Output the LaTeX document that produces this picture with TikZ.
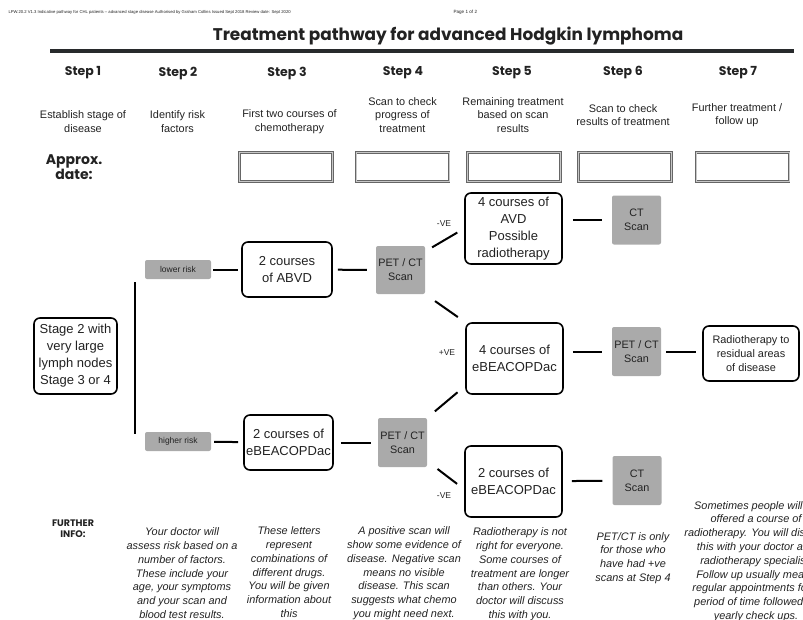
\documentclass[tikz,border=0pt]{standalone}
\usepackage{fontspec}
\setmainfont{Liberation Sans}
\newfontfamily\headfont{Poppins}
\usepackage{tikz}
\usetikzlibrary{positioning}

\definecolor{scangray}{RGB}{170,170,170}
\definecolor{inkgray}{RGB}{34,34,34}
\definecolor{rulegray}{RGB}{40,42,44}

\tikzset{
	course/.style={draw=black, line width=1.6pt, rounded corners=6pt, fill=white, align=center, inner sep=2pt, font=\fontsize{13}{17}\selectfont},
	scan/.style={fill=scangray, rounded corners=2pt, align=center, minimum width=49pt, minimum height=49pt, inner sep=1pt, font=\fontsize{10.8}{14}\selectfont},
	link/.style={line width=2pt, shorten <=9pt, shorten >=9pt}
}

\begin{document}
\begin{tikzpicture}[
		x=1pt, y=-1pt,
		every node/.append style={text=inkgray},
		steplabel/.style={font=\headfont\bfseries\fontsize{12.5}{14}\selectfont},
		stepnote/.style={align=center, font=\fontsize{10.9}{13.5}\selectfont},
		datebox/.style={draw=black!60, line width=1pt, double=black!22, double distance=0.7pt, minimum width=93pt, minimum height=29pt},
		risk/.style={fill=scangray, rounded corners=2pt, minimum width=66pt, minimum height=19pt, font=\fontsize{8.5}{10}\selectfont},
		vlabel/.style={font=\fontsize{8.5}{10}\selectfont},
		infonote/.style={anchor=north, inner sep=0pt, align=center, font=\itshape\fontsize{10.9}{13.8}\selectfont},
		fork/.style={line width=1.6pt}
		]
		\useasboundingbox (0,0) rectangle (803,619);
		\clip (0,0) rectangle (803,619);
		
		% page header
		\node[anchor=west, font=\fontsize{4.2}{5}\selectfont] (docref) at (5,12) {LPW.20.2 V1.3 Indicative pathway for CHL patients – advanced stage disease Authorised by Graham Collins Issued Sept 2018 Review date: Sept 2020};
		\node[anchor=west, font=\fontsize{4.6}{5}\selectfont] (pageno) at (450,12) {Page 1 of 2};
		\node[font=\headfont\bfseries\fontsize{16.9}{20}\selectfont] (title) at (448,36) {Treatment pathway for advanced Hodgkin lymphoma};
		\draw[rulegray, line width=4.5pt] (50,51) -- (794,51);
		
		% steps
		\node[steplabel] (step1) at (83,73) {Step 1};
		\node[steplabel] (step2) at (178,73) {Step 2};
		\node[steplabel] (step3) at (287,73) {Step 3};
		\node[steplabel] (step4) at (403,73) {Step 4};
		\node[steplabel] (step5) at (512,73) {Step 5};
		\node[steplabel] (step6) at (623,73) {Step 6};
		\node[steplabel] (step7) at (738,73) {Step 7};
		
		\node[stepnote] (note1) at (83,121.5) {Establish stage of\\disease};
		\node[stepnote] (note2) at (177.5,121.5) {Identify risk\\factors};
		\node[stepnote] (note3) at (289.5,121.5) {First two courses of\\chemotherapy};
		\node[stepnote] (note4) at (402.5,115) {Scan to check\\progress of\\treatment};
		\node[stepnote] (note5) at (513,115) {Remaining treatment\\based on scan\\results};
		\node[stepnote] (note6) at (623,115) {Scan to check\\results of treatment};
		\node[stepnote] (note7) at (737,115) {Further treatment /\\follow up};
		
		% dates
		\node[font=\headfont\bfseries\fontsize{14}{11.5}\selectfont, align=center] (approx) at (74,167) {Approx.\\date:};
		\node[datebox] (date3) at (286,167) {};
		\node[datebox] (date4) at (402.5,167) {};
		\node[datebox] (date5) at (514,167) {};
		\node[datebox] (date6) at (625,167) {};
		\node[datebox] (date7) at (742.5,167) {};
		
		% pathway
		\node[course, minimum width=83pt, minimum height=76pt] (stage) at (75.5,356) {Stage 2 with\\very large\\lymph nodes\\Stage 3 or 4};
		\coordinate (forktop) at (135,282);
		\coordinate (forkbot) at (135,434);
		\draw[fork] (forktop) -- (forkbot);
		
		\node[risk] (lowrisk) at (178,269.5) {lower risk};
		\node[risk] (highrisk) at (178,441.5) {higher risk};
		
		\node[course, minimum width=90pt, minimum height=55pt] (abvd) at (287,269.5) {2 courses\\of ABVD};
		\node[course, minimum width=89pt, minimum height=55pt] (ebeacfirst) at (288.5,442.5) {2 courses of\\eBEACOPDac};
		
		\node[scan, minimum height=48pt] (pettop) at (400.5,270) {PET / CT\\Scan};
		\node[scan] (petlow) at (402.5,442.5) {PET / CT\\Scan};
		
		\node[course, minimum width=97pt, minimum height=71pt] (avd) at (513.5,228.5) {4 courses of\\AVD\\Possible\\radiotherapy};
		\node[course, minimum width=97pt, minimum height=71pt] (ebeacfour) at (514.5,358.5) {4 courses of\\eBEACOPDac};
		\node[course, minimum width=97pt, minimum height=71pt] (ebeactwo) at (513.5,481.5) {2 courses of\\eBEACOPDac};
		
		\node[vlabel] (negtop) at (444,224) {-VE};
		\node[vlabel] (pos) at (447,353) {+VE};
		\node[vlabel] (neglow) at (444,496) {-VE};
		
		\node[scan] (cttop) at (636.5,220) {CT\\Scan};
		\node[scan] (petmid) at (636.5,351.5) {PET / CT\\Scan};
		\node[scan] (ctlow) at (637,480.5) {CT\\Scan};
		
		\node[course, minimum width=96pt, minimum height=55pt, font=\fontsize{10.9}{14}\selectfont] (radio) at (751,353.5) {Radiotherapy to\\residual areas\\of disease};
		
		\draw[link, shorten <=2pt, shorten >=3pt] (lowrisk) -- (abvd);
		\draw[link, shorten <=3pt, shorten >=5pt] (highrisk) -- (ebeacfirst);
		\draw[link, shorten <=5pt, shorten >=9pt] (abvd) -- (pettop);
		\draw[link, shorten <=7pt, shorten >=7pt] (ebeacfirst) -- (petlow);
		\draw[link, shorten <=8pt, shorten >=8pt] (pettop.37) -- (avd.west);
		\draw[link, shorten <=12pt, shorten >=9pt] (pettop.south east) -- (ebeacfour.north west);
		\draw[link, shorten <=10pt, shorten >=10pt] (petlow.north east) -- (ebeacfour.-151);
		\draw[link, shorten <=13pt, shorten >=9pt] (petlow.-37) -- (ebeactwo.-171);
		\draw[link, shorten <=10pt, shorten >=10pt] (avd.east |- cttop) -- (cttop);
		\draw[link, shorten <=9pt, shorten >=10pt] (ebeacfour.east |- petmid) -- (petmid);
		\draw[link, shorten <=9pt, shorten >=10pt] (ebeactwo) -- (ctlow);
		\draw[link, shorten <=5pt, shorten >=6pt] (petmid) -- (radio.west |- petmid);
		
		% further info
		\node[font=\headfont\bfseries\fontsize{9.5}{11}\selectfont, align=center] (further) at (73,528.5) {FURTHER\\INFO:};
		\node[infonote] (info2) at (182,527.5) {Your doctor will\\assess risk based on a\\number of factors.\\These include your\\age, your symptoms\\and your scan and\\blood test results.};
		\node[infonote] (info3) at (289,526.5) {These letters\\represent\\combinations of\\different drugs.\\You will be given\\information about\\this};
		\node[infonote] (info4) at (404,526.5) {A positive scan will\\show some evidence of\\disease. Negative scan\\means no visible\\disease. This scan\\suggests what chemo\\you might need next.};
		\node[infonote] (info5) at (520,527.5) {Radiotherapy is not\\right for everyone.\\Some courses of\\treatment are longer\\than others. Your\\doctor will discuss\\this with you.};
		\node[infonote] (info6) at (633,532) {PET/CT is only\\for those who\\have had +ve\\scans at Step 4};
		\node[infonote] (info7) at (756,501) {Sometimes people will be\\offered a course of\\radiotherapy. You will discuss\\this with your doctor and\\radiotherapy specialist.\\Follow up usually means\\regular appointments for a\\period of time followed by\\yearly check ups.};
	\end{tikzpicture}
\end{document}
